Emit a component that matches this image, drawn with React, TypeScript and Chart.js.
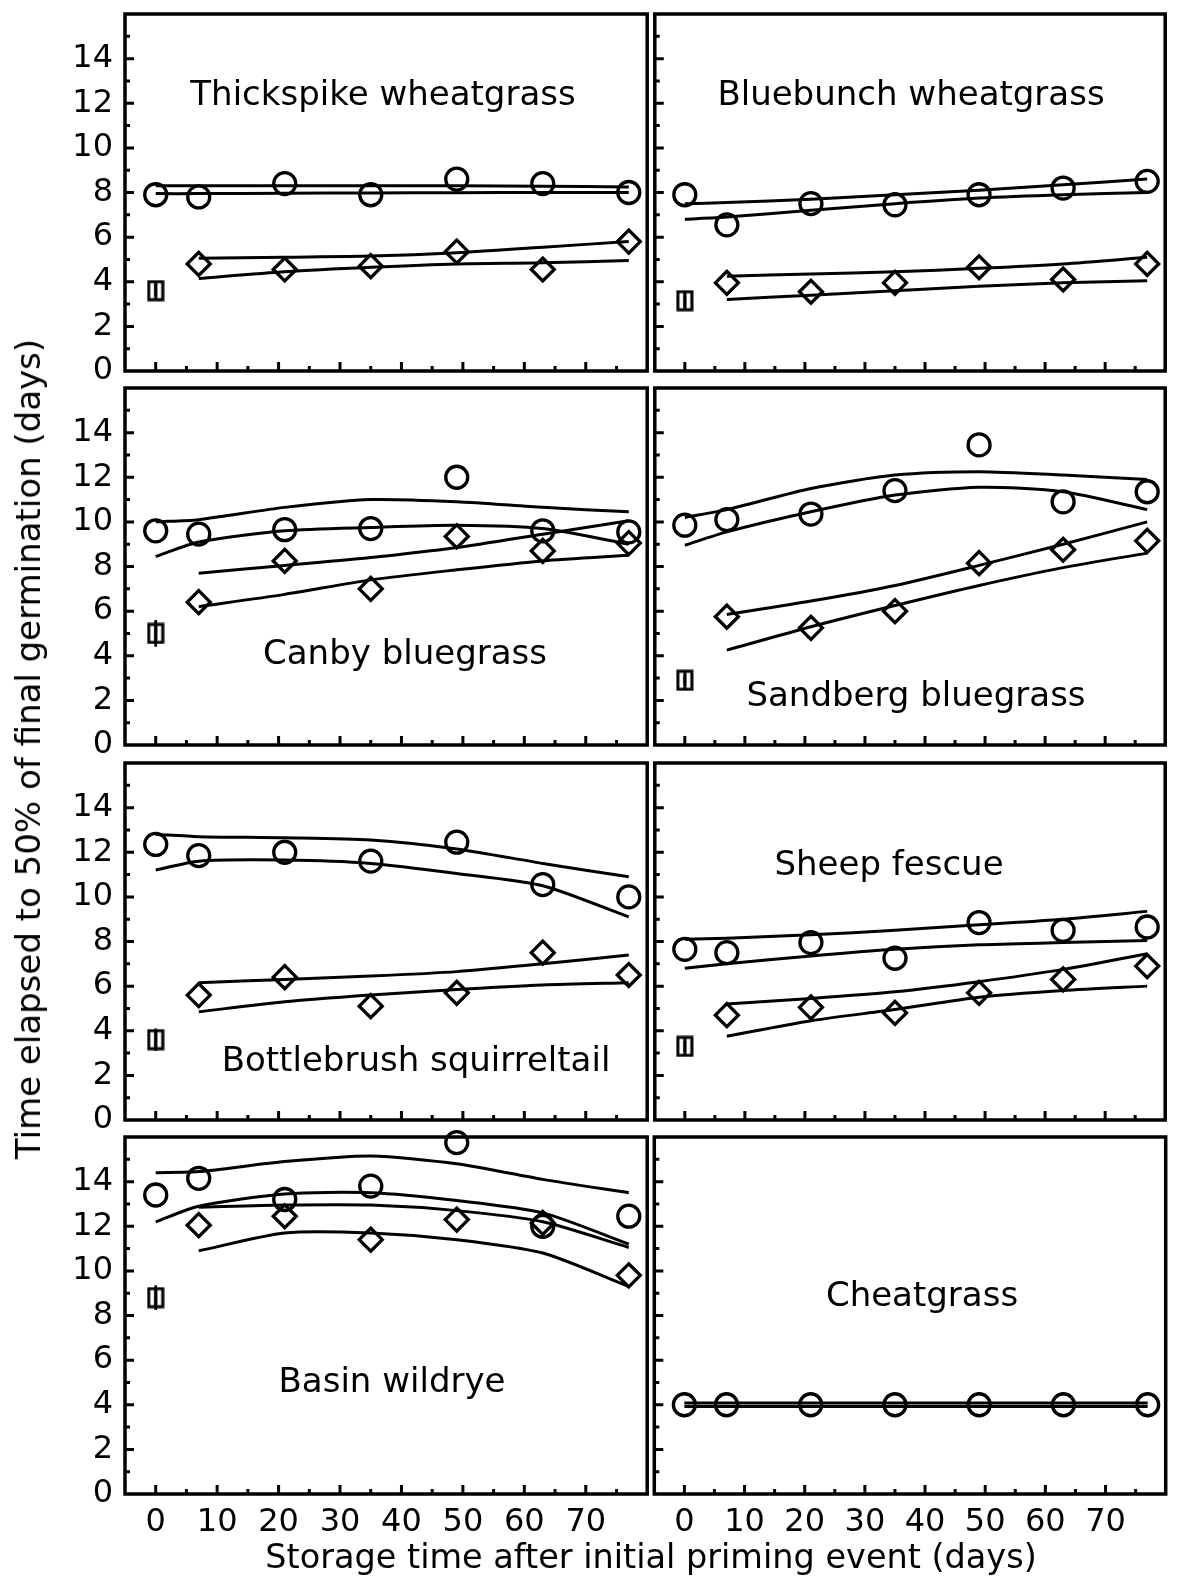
import React, { useEffect, useRef } from "react";
import { Chart, registerables } from "chart.js";

Chart.register(...registerables);

// ---------- axes ----------
const DAYS = [0, 7, 21, 35, 49, 63, 77];
const PRIMED_DAYS = [7, 21, 35, 49, 63, 77];
const CONTROL_DAY = 0;
const X_MIN = -5;
const X_MAX = 80;
const Y_MIN = 0;
const Y_MAX = 16;
const Y_TICK_LABELS = [0, 2, 4, 6, 8, 10, 12, 14];
const Y_MINOR_TICKS = [1, 3, 5, 7, 9, 11, 13, 15];
const X_TICK_LABELS = [0, 10, 20, 30, 40, 50, 60, 70];
const X_MINOR_TICKS = [5, 15, 25, 35, 45, 55, 65, 75];

const X_TITLE = "Storage time after initial priming event (days)";
const Y_TITLE = "Time elapsed to 50% of final germination (days)";

// ---------- Thickspike wheatgrass ----------
const THICKSPIKE_CIRCLES = [7.9, 7.8, 8.4, 7.9, 8.6, 8.4, 8.0];
const THICKSPIKE_CIRCLE_FIT_A = [8.3, 8.3, 8.3, 8.3, 8.3, 8.28, 8.25];
const THICKSPIKE_CIRCLE_FIT_B = [7.95, 7.95, 7.97, 7.98, 7.99, 8.0, 8.0];
const THICKSPIKE_DIAMONDS = [4.8, 4.55, 4.7, 5.35, 4.55, 5.8];
const THICKSPIKE_DIAMOND_FIT_A = [5.05, 5.1, 5.15, 5.3, 5.55, 5.8];
const THICKSPIKE_DIAMOND_FIT_B = [4.15, 4.45, 4.65, 4.8, 4.85, 4.95];
const THICKSPIKE_CONTROL = [3.6, 0.3];

// ---------- Bluebunch wheatgrass ----------
const BLUEBUNCH_CIRCLES = [7.9, 6.55, 7.5, 7.45, 7.9, 8.2, 8.5];
const BLUEBUNCH_CIRCLE_FIT_A = [7.5, 7.55, 7.7, 7.9, 8.1, 8.35, 8.6];
const BLUEBUNCH_CIRCLE_FIT_B = [6.8, 6.9, 7.2, 7.5, 7.75, 7.9, 8.0];
const BLUEBUNCH_DIAMONDS = [3.95, 3.55, 3.95, 4.65, 4.1, 4.8];
const BLUEBUNCH_DIAMOND_FIT_A = [4.25, 4.35, 4.45, 4.6, 4.8, 5.1];
const BLUEBUNCH_DIAMOND_FIT_B = [3.2, 3.4, 3.6, 3.8, 3.95, 4.05];
const BLUEBUNCH_CONTROL = [3.15, 0.3];

// ---------- Canby bluegrass ----------
const CANBY_CIRCLES = [9.6, 9.45, 9.65, 9.7, 12.0, 9.6, 9.55];
const CANBY_CIRCLE_FIT_A = [10.0, 10.1, 10.65, 11.0, 10.9, 10.65, 10.45];
const CANBY_CIRCLE_FIT_B = [8.45, 9.1, 9.6, 9.75, 9.85, 9.7, 9.0];
const CANBY_DIAMONDS = [6.4, 8.25, 7.0, 9.35, 8.7, 9.05];
const CANBY_DIAMOND_FIT_A = [7.7, 8.05, 8.4, 8.85, 9.45, 10.05];
const CANBY_DIAMOND_FIT_B = [6.2, 6.75, 7.4, 7.85, 8.25, 8.5];
const CANBY_CONTROL = [5.0, 0.6];

// ---------- Sandberg bluegrass ----------
const SANDBERG_CIRCLES = [9.85, 10.1, 10.35, 11.4, 13.45, 10.9, 11.35];
const SANDBERG_CIRCLE_FIT_A = [10.2, 10.55, 11.5, 12.1, 12.25, 12.1, 11.9];
const SANDBERG_CIRCLE_FIT_B = [8.95, 9.55, 10.45, 11.2, 11.55, 11.35, 10.55];
const SANDBERG_DIAMONDS = [5.75, 5.25, 6.0, 8.15, 8.75, 9.15];
const SANDBERG_DIAMOND_FIT_A = [5.85, 6.45, 7.15, 8.05, 9.0, 10.0];
const SANDBERG_DIAMOND_FIT_B = [4.25, 5.3, 6.25, 7.15, 7.95, 8.6];
const SANDBERG_CONTROL = [2.9, 0.25];

// ---------- Bottlebrush squirreltail ----------
const BOTTLEBRUSH_CIRCLES = [12.35, 11.85, 12.0, 11.6, 12.45, 10.55, 10.0];
const BOTTLEBRUSH_CIRCLE_FIT_A = [12.8, 12.7, 12.65, 12.55, 12.15, 11.5, 10.9];
const BOTTLEBRUSH_CIRCLE_FIT_B = [11.2, 11.6, 11.65, 11.5, 11.05, 10.5, 9.1];
const BOTTLEBRUSH_DIAMONDS = [5.6, 6.4, 5.1, 5.7, 7.5, 6.5];
const BOTTLEBRUSH_DIAMOND_FIT_A = [6.15, 6.3, 6.45, 6.65, 7.0, 7.4];
const BOTTLEBRUSH_DIAMOND_FIT_B = [4.85, 5.3, 5.6, 5.85, 6.05, 6.15];
const BOTTLEBRUSH_CONTROL = [3.6, 0.5];

// ---------- Sheep fescue ----------
const SHEEP_CIRCLES = [7.65, 7.5, 7.95, 7.25, 8.85, 8.5, 8.65];
const SHEEP_CIRCLE_FIT_A = [8.1, 8.15, 8.3, 8.5, 8.75, 9.0, 9.35];
const SHEEP_CIRCLE_FIT_B = [6.8, 7.0, 7.35, 7.65, 7.85, 7.95, 8.05];
const SHEEP_DIAMONDS = [4.7, 5.05, 4.8, 5.7, 6.3, 6.9];
const SHEEP_DIAMOND_FIT_A = [5.2, 5.45, 5.75, 6.2, 6.75, 7.45];
const SHEEP_DIAMOND_FIT_B = [3.75, 4.45, 4.95, 5.5, 5.8, 6.0];
const SHEEP_CONTROL = [3.3, 0.25];

// ---------- Basin wildrye ----------
const BASIN_CIRCLES = [13.4, 14.15, 13.2, 13.8, 15.75, 12.0, 12.45];
const BASIN_CIRCLE_FIT_A = [14.4, 14.45, 14.9, 15.15, 14.8, 14.1, 13.5];
const BASIN_CIRCLE_FIT_B = [12.2, 12.9, 13.45, 13.5, 13.15, 12.6, 11.2];
const BASIN_DIAMONDS = [12.05, 12.45, 11.4, 12.3, 12.15, 9.8];
const BASIN_DIAMOND_FIT_A = [12.85, 12.95, 12.95, 12.7, 12.2, 11.05];
const BASIN_DIAMOND_FIT_B = [10.9, 11.7, 11.7, 11.4, 10.8, 9.3];
const BASIN_CONTROL = [8.8, 0.55];

// ---------- Cheatgrass ----------
const CHEAT_CIRCLES = [4.0, 4.0, 4.0, 4.0, 4.0, 4.0, 4.0];
const CHEAT_CIRCLE_FIT_A = [4.08, 4.08, 4.08, 4.08, 4.08, 4.08, 4.08];
const CHEAT_CIRCLE_FIT_B = [3.92, 3.92, 3.92, 3.92, 3.92, 3.92, 3.92];

// ---------- layout (pixels) ----------
const PAGE_W = 1180;
const PAGE_H = 1578;
const COL_AREA = [
  [125, 652],
  [652, 1177],
];
const ROW_BOTTOM = [371, 745, 1120, 1494];
const AREA_H = 357;
const TOP_PAD = 16;
const BOTTOM_EXTRA = 26;
const FONT = "'DejaVu Sans', 'Liberation Sans', sans-serif";

type PanelSpec = {
  name: string;
  row: number;
  col: number;
  labelPos: [number, number];
  circles: number[];
  circleFitA: number[];
  circleFitB: number[];
  diamonds?: number[];
  diamondFitA?: number[];
  diamondFitB?: number[];
  control?: number[];
};

const PANELS: PanelSpec[] = [
  { name: "Thickspike wheatgrass", row: 0, col: 0, labelPos: [383, 93], circles: THICKSPIKE_CIRCLES, circleFitA: THICKSPIKE_CIRCLE_FIT_A, circleFitB: THICKSPIKE_CIRCLE_FIT_B, diamonds: THICKSPIKE_DIAMONDS, diamondFitA: THICKSPIKE_DIAMOND_FIT_A, diamondFitB: THICKSPIKE_DIAMOND_FIT_B, control: THICKSPIKE_CONTROL },
  { name: "Bluebunch wheatgrass", row: 0, col: 1, labelPos: [911, 93], circles: BLUEBUNCH_CIRCLES, circleFitA: BLUEBUNCH_CIRCLE_FIT_A, circleFitB: BLUEBUNCH_CIRCLE_FIT_B, diamonds: BLUEBUNCH_DIAMONDS, diamondFitA: BLUEBUNCH_DIAMOND_FIT_A, diamondFitB: BLUEBUNCH_DIAMOND_FIT_B, control: BLUEBUNCH_CONTROL },
  { name: "Canby bluegrass", row: 1, col: 0, labelPos: [405, 652], circles: CANBY_CIRCLES, circleFitA: CANBY_CIRCLE_FIT_A, circleFitB: CANBY_CIRCLE_FIT_B, diamonds: CANBY_DIAMONDS, diamondFitA: CANBY_DIAMOND_FIT_A, diamondFitB: CANBY_DIAMOND_FIT_B, control: CANBY_CONTROL },
  { name: "Sandberg bluegrass", row: 1, col: 1, labelPos: [916, 694], circles: SANDBERG_CIRCLES, circleFitA: SANDBERG_CIRCLE_FIT_A, circleFitB: SANDBERG_CIRCLE_FIT_B, diamonds: SANDBERG_DIAMONDS, diamondFitA: SANDBERG_DIAMOND_FIT_A, diamondFitB: SANDBERG_DIAMOND_FIT_B, control: SANDBERG_CONTROL },
  { name: "Bottlebrush squirreltail", row: 2, col: 0, labelPos: [416, 1059], circles: BOTTLEBRUSH_CIRCLES, circleFitA: BOTTLEBRUSH_CIRCLE_FIT_A, circleFitB: BOTTLEBRUSH_CIRCLE_FIT_B, diamonds: BOTTLEBRUSH_DIAMONDS, diamondFitA: BOTTLEBRUSH_DIAMOND_FIT_A, diamondFitB: BOTTLEBRUSH_DIAMOND_FIT_B, control: BOTTLEBRUSH_CONTROL },
  { name: "Sheep fescue", row: 2, col: 1, labelPos: [889, 863], circles: SHEEP_CIRCLES, circleFitA: SHEEP_CIRCLE_FIT_A, circleFitB: SHEEP_CIRCLE_FIT_B, diamonds: SHEEP_DIAMONDS, diamondFitA: SHEEP_DIAMOND_FIT_A, diamondFitB: SHEEP_DIAMOND_FIT_B, control: SHEEP_CONTROL },
  { name: "Basin wildrye", row: 3, col: 0, labelPos: [392, 1380], circles: BASIN_CIRCLES, circleFitA: BASIN_CIRCLE_FIT_A, circleFitB: BASIN_CIRCLE_FIT_B, diamonds: BASIN_DIAMONDS, diamondFitA: BASIN_DIAMOND_FIT_A, diamondFitB: BASIN_DIAMOND_FIT_B, control: BASIN_CONTROL },
  { name: "Cheatgrass", row: 3, col: 1, labelPos: [922, 1294], circles: CHEAT_CIRCLES, circleFitA: CHEAT_CIRCLE_FIT_A, circleFitB: CHEAT_CIRCLE_FIT_B },
];

const pts = (xs: number[], ys: number[]) => xs.map((x, i) => ({ x, y: ys[i] }));

const framePlugin = {
  id: "frame",
  afterDatasetsDraw(chart: any) {
    const { ctx, chartArea: a, scales } = chart;
    const xs = scales.x;
    const ys = scales.y;
    ctx.save();
    ctx.strokeStyle = "#000";
    ctx.lineWidth = 3.5;
    ctx.strokeRect(a.left, a.top, a.right - a.left, a.bottom - a.top);
    ctx.lineWidth = 3;
    ctx.beginPath();
    for (const v of Y_TICK_LABELS) {
      if (v <= Y_MIN) continue;
      const p = ys.getPixelForValue(v);
      ctx.moveTo(a.left, p);
      ctx.lineTo(a.left + 9, p);
    }
    for (const v of Y_MINOR_TICKS) {
      const p = ys.getPixelForValue(v);
      ctx.moveTo(a.left, p);
      ctx.lineTo(a.left + 5, p);
    }
    for (const v of X_TICK_LABELS) {
      const p = xs.getPixelForValue(v);
      ctx.moveTo(p, a.bottom);
      ctx.lineTo(p, a.bottom - 9);
    }
    for (const v of X_MINOR_TICKS) {
      const p = xs.getPixelForValue(v);
      ctx.moveTo(p, a.bottom);
      ctx.lineTo(p, a.bottom - 5);
    }
    ctx.stroke();
    ctx.restore();
  },
};

function makeControlGlyph(): HTMLCanvasElement {
  const c = document.createElement("canvas");
  c.width = 18;
  c.height = 22;
  const g = c.getContext("2d")!;
  g.strokeStyle = "#000";
  g.lineWidth = 3;
  g.strokeRect(2, 2, 14, 18);
  g.beginPath();
  g.moveTo(9, 2);
  g.lineTo(9, 20);
  g.stroke();
  return c;
}

function Panel({ spec }: { spec: PanelSpec }) {
  const ref = useRef<HTMLCanvasElement | null>(null);
  const isLeft = spec.col === 0;
  const isBottom = spec.row === 3;
  const canvasLeft = isLeft ? 0 : 640;
  const canvasWidth = isLeft ? 662 : PAGE_W - 640;
  const areaTop = ROW_BOTTOM[spec.row] - AREA_H;
  const canvasTop = areaTop - TOP_PAD;
  const xAxisH = isBottom ? PAGE_H - ROW_BOTTOM[spec.row] : BOTTOM_EXTRA;
  const canvasHeight = TOP_PAD + AREA_H + xAxisH;
  const yAxisW = isLeft ? COL_AREA[0][0] : 0;
  const padLeft = isLeft ? 0 : COL_AREA[1][0] - canvasLeft;
  const padRight = canvasLeft + canvasWidth - COL_AREA[spec.col][1];

  useEffect(() => {
    const canvas = ref.current;
    if (!canvas) return;
    const lineStyle = {
      showLine: true,
      pointRadius: 0,
      borderColor: "#000",
      borderWidth: 3,
      tension: 0.25,
      fill: false,
      clip: false as const,
    };
    const datasets: any[] = [
      { ...lineStyle, data: pts(DAYS, spec.circleFitA) },
      { ...lineStyle, data: pts(DAYS, spec.circleFitB) },
      {
        data: pts(DAYS, spec.circles),
        showLine: false,
        pointStyle: "circle",
        pointRadius: 11,
        pointBorderWidth: 3.3,
        pointBorderColor: "#000",
        pointBackgroundColor: "rgba(0,0,0,0)",
        clip: false,
      },
    ];
    if (spec.diamonds && spec.diamondFitA && spec.diamondFitB) {
      datasets.push(
        { ...lineStyle, data: pts(PRIMED_DAYS, spec.diamondFitA) },
        { ...lineStyle, data: pts(PRIMED_DAYS, spec.diamondFitB) },
        {
          data: pts(PRIMED_DAYS, spec.diamonds),
          showLine: false,
          pointStyle: "rectRot",
          pointRadius: 11.5,
          pointBorderWidth: 3.3,
          pointBorderColor: "#000",
          pointBackgroundColor: "rgba(0,0,0,0)",
          clip: false,
        }
      );
    }
    if (spec.control) {
      const [v, e] = spec.control;
      datasets.push(
        {
          showLine: true,
          pointRadius: 0,
          borderColor: "#000",
          borderWidth: 2.8,
          data: [
            { x: CONTROL_DAY, y: v - e },
            { x: CONTROL_DAY, y: v + e },
          ],
          clip: false,
        },
        {
          showLine: false,
          data: [{ x: CONTROL_DAY, y: v }],
          pointStyle: makeControlGlyph(),
          pointRadius: 9,
          clip: false,
        }
      );
    }
    const tickFont = { family: FONT, size: 32 };
    const chart = new Chart(canvas, {
      type: "scatter",
      data: { datasets },
      options: {
        responsive: false,
        animation: false,
        devicePixelRatio: 1,
        layout: { padding: { left: padLeft, right: padRight, top: TOP_PAD, bottom: 0 } },
        plugins: {
          legend: { display: false },
          tooltip: { enabled: false },
          title: { display: false },
        },
        events: [],
        scales: {
          x: {
            type: "linear",
            min: X_MIN,
            max: X_MAX,
            grid: { display: false, drawTicks: false },
            border: { display: false },
            ticks: {
              display: isBottom,
              color: "#000",
              font: tickFont,
              padding: 9,
              maxRotation: 0,
              autoSkip: false,
            },
            afterBuildTicks: (s: any) => {
              s.ticks = X_TICK_LABELS.map((v) => ({ value: v }));
            },
            afterFit: (s: any) => {
              s.height = xAxisH;
              s.paddingLeft = 0;
              s.paddingRight = 0;
              s.paddingTop = 0;
              s.paddingBottom = 0;
            },
          },
          y: {
            type: "linear",
            min: Y_MIN,
            max: Y_MAX,
            grid: { display: false, drawTicks: false },
            border: { display: false },
            ticks: {
              display: isLeft,
              color: "#000",
              font: tickFont,
              padding: 12,
              autoSkip: false,
            },
            afterBuildTicks: (s: any) => {
              s.ticks = Y_TICK_LABELS.map((v) => ({ value: v }));
            },
            afterFit: (s: any) => {
              s.width = yAxisW;
              s.paddingLeft = 0;
              s.paddingRight = 0;
              s.paddingTop = 0;
              s.paddingBottom = 0;
            },
          },
        },
      } as any,
      plugins: [framePlugin],
    });
    return () => chart.destroy();
  }, []);

  return (
    <canvas
      ref={ref}
      width={canvasWidth}
      height={canvasHeight}
      style={{
        position: "absolute",
        left: canvasLeft,
        top: canvasTop,
        width: canvasWidth,
        height: canvasHeight,
      }}
    />
  );
}

const textBase: React.CSSProperties = {
  position: "absolute",
  fontFamily: FONT,
  color: "#000",
  lineHeight: 1,
  whiteSpace: "nowrap",
  transform: "translate(-50%, -50%)",
};

export default function App() {
  return (
    <div
      style={{
        position: "absolute",
        left: 0,
        top: 0,
        width: PAGE_W,
        height: PAGE_H,
        background: "#fff",
        overflow: "hidden",
      }}
    >
      {PANELS.map((p) => (
        <Panel key={p.name} spec={p} />
      ))}
      {PANELS.map((p) => (
        <div key={p.name + "-label"} style={{ ...textBase, left: p.labelPos[0], top: p.labelPos[1], fontSize: 34 }}>
          {p.name}
        </div>
      ))}
      <div style={{ ...textBase, left: 651, top: 1557, fontSize: 33.5 }}>{X_TITLE}</div>
      <div
        style={{
          ...textBase,
          left: 28,
          top: 749,
          fontSize: 34,
          transform: "translate(-50%, -50%) rotate(-90deg)",
        }}
      >
        {Y_TITLE}
      </div>
    </div>
  );
}
